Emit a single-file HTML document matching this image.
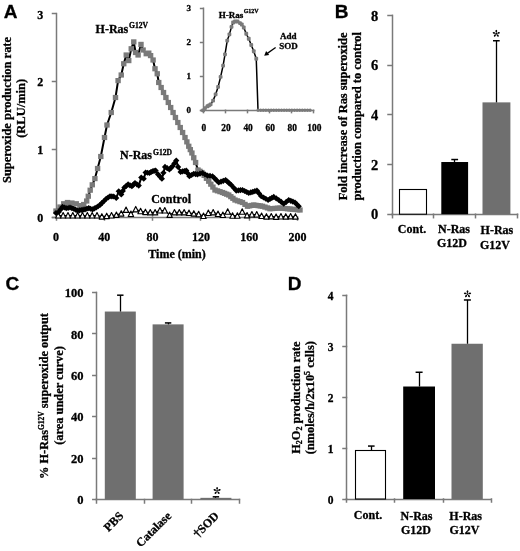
<!DOCTYPE html>
<html><head><meta charset="utf-8"><style>
html,body{margin:0;padding:0;background:#fff;width:520px;height:551px;overflow:hidden}
svg{display:block;will-change:transform}
</style></head><body>
<svg width="520" height="551" viewBox="0 0 520 551" fill="#000">
<style>text{stroke:#000;stroke-width:0.3px;paint-order:stroke}</style>
<rect width="520" height="551" fill="#fff"/>
<line x1="56.50" y1="13.60" x2="56.50" y2="217.00" stroke="#7a7a7a" stroke-width="1.5" stroke-linecap="square"/>
<line x1="52.50" y1="217.50" x2="56.00" y2="217.50" stroke="#7a7a7a" stroke-width="1.5" stroke-linecap="square"/>
<text x="40.3" y="222.0" font-family="Liberation Serif" font-size="12" font-weight="bold" text-anchor="middle" >0</text>
<line x1="52.50" y1="149.50" x2="56.00" y2="149.50" stroke="#7a7a7a" stroke-width="1.5" stroke-linecap="square"/>
<text x="40.3" y="154.2" font-family="Liberation Serif" font-size="12" font-weight="bold" text-anchor="middle" >1</text>
<line x1="52.50" y1="81.50" x2="56.00" y2="81.50" stroke="#7a7a7a" stroke-width="1.5" stroke-linecap="square"/>
<text x="40.3" y="86.4" font-family="Liberation Serif" font-size="12" font-weight="bold" text-anchor="middle" >2</text>
<line x1="52.50" y1="13.50" x2="56.00" y2="13.50" stroke="#7a7a7a" stroke-width="1.5" stroke-linecap="square"/>
<text x="40.3" y="18.600000000000023" font-family="Liberation Serif" font-size="12" font-weight="bold" text-anchor="middle" >3</text>
<line x1="52.50" y1="217.50" x2="297.50" y2="217.50" stroke="#7a7a7a" stroke-width="1.5" stroke-linecap="square"/>
<line x1="56.50" y1="217.00" x2="56.50" y2="220.00" stroke="#7a7a7a" stroke-width="1.5" stroke-linecap="square"/>
<text x="56.0" y="241.4" font-family="Liberation Serif" font-size="12" font-weight="bold" text-anchor="middle" >0</text>
<line x1="104.50" y1="217.00" x2="104.50" y2="220.00" stroke="#7a7a7a" stroke-width="1.5" stroke-linecap="square"/>
<text x="104.3" y="241.4" font-family="Liberation Serif" font-size="12" font-weight="bold" text-anchor="middle" >40</text>
<line x1="152.50" y1="217.00" x2="152.50" y2="220.00" stroke="#7a7a7a" stroke-width="1.5" stroke-linecap="square"/>
<text x="152.6" y="241.4" font-family="Liberation Serif" font-size="12" font-weight="bold" text-anchor="middle" >80</text>
<line x1="200.50" y1="217.00" x2="200.50" y2="220.00" stroke="#7a7a7a" stroke-width="1.5" stroke-linecap="square"/>
<text x="200.9" y="241.4" font-family="Liberation Serif" font-size="12" font-weight="bold" text-anchor="middle" >120</text>
<line x1="249.50" y1="217.00" x2="249.50" y2="220.00" stroke="#7a7a7a" stroke-width="1.5" stroke-linecap="square"/>
<text x="249.2" y="241.4" font-family="Liberation Serif" font-size="12" font-weight="bold" text-anchor="middle" >160</text>
<line x1="297.50" y1="217.00" x2="297.50" y2="220.00" stroke="#7a7a7a" stroke-width="1.5" stroke-linecap="square"/>
<text x="297.5" y="241.4" font-family="Liberation Serif" font-size="12" font-weight="bold" text-anchor="middle" >200</text>
<text x="177" y="258.3" font-family="Liberation Serif" font-size="12" font-weight="bold" text-anchor="middle" >Time (min)</text>
<text transform="translate(11.1,110.0) rotate(-90)" font-family="Liberation Serif" font-size="12.45" font-weight="bold" text-anchor="middle">Superoxide production rate</text>
<text transform="translate(25.2,108.3) rotate(-90)" font-family="Liberation Serif" font-size="12.5" font-weight="bold" text-anchor="middle">(RLU/min)</text>
<text x="3.7" y="17.9" font-family="Liberation Sans" font-size="19" font-weight="bold" text-anchor="start" >A</text>
<polyline points="58.30,215.50 63.14,215.50 67.98,215.50 72.82,215.50 77.66,215.50 82.50,215.50 87.34,215.50 92.18,215.50 97.02,215.50 101.86,216.60 106.70,216.10 111.54,215.50 116.38,214.90 121.22,213.60 126.06,209.90 130.90,214.00 135.74,209.30 140.58,211.20 145.42,212.10 150.26,212.40 155.10,212.40 159.94,210.50 164.78,210.50 169.62,214.90 174.46,212.40 179.30,212.40 184.14,212.40 188.98,213.00 193.82,213.60 198.66,214.20 203.50,216.00 208.34,213.00 213.18,212.40 218.02,214.00 222.86,215.00 227.70,211.70 232.54,215.70 237.38,215.70 242.22,211.70 247.06,215.40 251.90,214.50 256.74,214.50 261.58,216.00 266.42,216.60 271.26,216.40 276.10,216.80 280.94,216.50 285.78,216.60 290.62,216.40 295.46,216.60" fill="none" stroke="#000" stroke-width="1.2" stroke-linejoin="round"/>
<path d="M58.30,212.60 L61.00,218.00 L55.60,218.00 Z" fill="#fff" stroke="#000" stroke-width="1.15" stroke-linejoin="round"/>
<path d="M63.14,212.60 L65.84,218.00 L60.44,218.00 Z" fill="#fff" stroke="#000" stroke-width="1.15" stroke-linejoin="round"/>
<path d="M67.98,212.60 L70.68,218.00 L65.28,218.00 Z" fill="#fff" stroke="#000" stroke-width="1.15" stroke-linejoin="round"/>
<path d="M72.82,212.60 L75.52,218.00 L70.12,218.00 Z" fill="#fff" stroke="#000" stroke-width="1.15" stroke-linejoin="round"/>
<path d="M77.66,212.60 L80.36,218.00 L74.96,218.00 Z" fill="#fff" stroke="#000" stroke-width="1.15" stroke-linejoin="round"/>
<path d="M82.50,212.60 L85.20,218.00 L79.80,218.00 Z" fill="#fff" stroke="#000" stroke-width="1.15" stroke-linejoin="round"/>
<path d="M87.34,212.60 L90.04,218.00 L84.64,218.00 Z" fill="#fff" stroke="#000" stroke-width="1.15" stroke-linejoin="round"/>
<path d="M92.18,212.60 L94.88,218.00 L89.48,218.00 Z" fill="#fff" stroke="#000" stroke-width="1.15" stroke-linejoin="round"/>
<path d="M97.02,212.60 L99.72,218.00 L94.32,218.00 Z" fill="#fff" stroke="#000" stroke-width="1.15" stroke-linejoin="round"/>
<path d="M101.86,213.70 L104.56,219.10 L99.16,219.10 Z" fill="#fff" stroke="#000" stroke-width="1.15" stroke-linejoin="round"/>
<path d="M106.70,213.20 L109.40,218.60 L104.00,218.60 Z" fill="#fff" stroke="#000" stroke-width="1.15" stroke-linejoin="round"/>
<path d="M111.54,212.60 L114.24,218.00 L108.84,218.00 Z" fill="#fff" stroke="#000" stroke-width="1.15" stroke-linejoin="round"/>
<path d="M116.38,212.00 L119.08,217.40 L113.68,217.40 Z" fill="#fff" stroke="#000" stroke-width="1.15" stroke-linejoin="round"/>
<path d="M121.22,210.70 L123.92,216.10 L118.52,216.10 Z" fill="#fff" stroke="#000" stroke-width="1.15" stroke-linejoin="round"/>
<path d="M126.06,207.00 L128.76,212.40 L123.36,212.40 Z" fill="#fff" stroke="#000" stroke-width="1.15" stroke-linejoin="round"/>
<path d="M130.90,211.10 L133.60,216.50 L128.20,216.50 Z" fill="#fff" stroke="#000" stroke-width="1.15" stroke-linejoin="round"/>
<path d="M135.74,206.40 L138.44,211.80 L133.04,211.80 Z" fill="#fff" stroke="#000" stroke-width="1.15" stroke-linejoin="round"/>
<path d="M140.58,208.30 L143.28,213.70 L137.88,213.70 Z" fill="#fff" stroke="#000" stroke-width="1.15" stroke-linejoin="round"/>
<path d="M145.42,209.20 L148.12,214.60 L142.72,214.60 Z" fill="#fff" stroke="#000" stroke-width="1.15" stroke-linejoin="round"/>
<path d="M150.26,209.50 L152.96,214.90 L147.56,214.90 Z" fill="#fff" stroke="#000" stroke-width="1.15" stroke-linejoin="round"/>
<path d="M155.10,209.50 L157.80,214.90 L152.40,214.90 Z" fill="#fff" stroke="#000" stroke-width="1.15" stroke-linejoin="round"/>
<path d="M159.94,207.60 L162.64,213.00 L157.24,213.00 Z" fill="#fff" stroke="#000" stroke-width="1.15" stroke-linejoin="round"/>
<path d="M164.78,207.60 L167.48,213.00 L162.08,213.00 Z" fill="#fff" stroke="#000" stroke-width="1.15" stroke-linejoin="round"/>
<path d="M169.62,212.00 L172.32,217.40 L166.92,217.40 Z" fill="#fff" stroke="#000" stroke-width="1.15" stroke-linejoin="round"/>
<path d="M174.46,209.50 L177.16,214.90 L171.76,214.90 Z" fill="#fff" stroke="#000" stroke-width="1.15" stroke-linejoin="round"/>
<path d="M179.30,209.50 L182.00,214.90 L176.60,214.90 Z" fill="#fff" stroke="#000" stroke-width="1.15" stroke-linejoin="round"/>
<path d="M184.14,209.50 L186.84,214.90 L181.44,214.90 Z" fill="#fff" stroke="#000" stroke-width="1.15" stroke-linejoin="round"/>
<path d="M188.98,210.10 L191.68,215.50 L186.28,215.50 Z" fill="#fff" stroke="#000" stroke-width="1.15" stroke-linejoin="round"/>
<path d="M193.82,210.70 L196.52,216.10 L191.12,216.10 Z" fill="#fff" stroke="#000" stroke-width="1.15" stroke-linejoin="round"/>
<path d="M198.66,211.30 L201.36,216.70 L195.96,216.70 Z" fill="#fff" stroke="#000" stroke-width="1.15" stroke-linejoin="round"/>
<path d="M203.50,213.10 L206.20,218.50 L200.80,218.50 Z" fill="#fff" stroke="#000" stroke-width="1.15" stroke-linejoin="round"/>
<path d="M208.34,210.10 L211.04,215.50 L205.64,215.50 Z" fill="#fff" stroke="#000" stroke-width="1.15" stroke-linejoin="round"/>
<path d="M213.18,209.50 L215.88,214.90 L210.48,214.90 Z" fill="#fff" stroke="#000" stroke-width="1.15" stroke-linejoin="round"/>
<path d="M218.02,211.10 L220.72,216.50 L215.32,216.50 Z" fill="#fff" stroke="#000" stroke-width="1.15" stroke-linejoin="round"/>
<path d="M222.86,212.10 L225.56,217.50 L220.16,217.50 Z" fill="#fff" stroke="#000" stroke-width="1.15" stroke-linejoin="round"/>
<path d="M227.70,208.80 L230.40,214.20 L225.00,214.20 Z" fill="#fff" stroke="#000" stroke-width="1.15" stroke-linejoin="round"/>
<path d="M232.54,212.80 L235.24,218.20 L229.84,218.20 Z" fill="#fff" stroke="#000" stroke-width="1.15" stroke-linejoin="round"/>
<path d="M237.38,212.80 L240.08,218.20 L234.68,218.20 Z" fill="#fff" stroke="#000" stroke-width="1.15" stroke-linejoin="round"/>
<path d="M242.22,208.80 L244.92,214.20 L239.52,214.20 Z" fill="#fff" stroke="#000" stroke-width="1.15" stroke-linejoin="round"/>
<path d="M247.06,212.50 L249.76,217.90 L244.36,217.90 Z" fill="#fff" stroke="#000" stroke-width="1.15" stroke-linejoin="round"/>
<path d="M251.90,211.60 L254.60,217.00 L249.20,217.00 Z" fill="#fff" stroke="#000" stroke-width="1.15" stroke-linejoin="round"/>
<path d="M256.74,211.60 L259.44,217.00 L254.04,217.00 Z" fill="#fff" stroke="#000" stroke-width="1.15" stroke-linejoin="round"/>
<path d="M261.58,213.10 L264.28,218.50 L258.88,218.50 Z" fill="#fff" stroke="#000" stroke-width="1.15" stroke-linejoin="round"/>
<path d="M266.42,213.70 L269.12,219.10 L263.72,219.10 Z" fill="#fff" stroke="#000" stroke-width="1.15" stroke-linejoin="round"/>
<path d="M271.26,213.50 L273.96,218.90 L268.56,218.90 Z" fill="#fff" stroke="#000" stroke-width="1.15" stroke-linejoin="round"/>
<path d="M276.10,213.90 L278.80,219.30 L273.40,219.30 Z" fill="#fff" stroke="#000" stroke-width="1.15" stroke-linejoin="round"/>
<path d="M280.94,213.60 L283.64,219.00 L278.24,219.00 Z" fill="#fff" stroke="#000" stroke-width="1.15" stroke-linejoin="round"/>
<path d="M285.78,213.70 L288.48,219.10 L283.08,219.10 Z" fill="#fff" stroke="#000" stroke-width="1.15" stroke-linejoin="round"/>
<path d="M290.62,213.50 L293.32,218.90 L287.92,218.90 Z" fill="#fff" stroke="#000" stroke-width="1.15" stroke-linejoin="round"/>
<path d="M295.46,213.70 L298.16,219.10 L292.76,219.10 Z" fill="#fff" stroke="#000" stroke-width="1.15" stroke-linejoin="round"/>
<polyline points="56.00,211.00 60.00,207.00 63.75,203.75 67.50,202.50 71.90,203.00 76.25,203.75 80.00,205.60 83.75,204.50 86.70,201.00 88.30,196.20 90.20,190.20 92.30,184.80 94.90,178.60 97.60,168.50 100.80,156.50 104.50,137.50 107.00,125.00 111.25,112.50 115.50,97.50 118.10,80.60 121.25,75.00 123.75,63.75 126.25,55.00 128.75,60.60 131.25,48.75 133.75,41.90 135.60,52.50 138.10,55.00 141.00,44.40 143.10,50.00 146.25,53.75 148.75,53.10 150.60,55.60 153.10,60.00 155.00,68.75 157.25,73.75 158.75,82.50 161.14,87.50 163.52,92.50 165.91,97.50 168.30,102.50 170.68,107.50 173.07,112.50 175.45,117.50 177.84,122.50 180.23,127.50 182.61,132.50 185.00,137.50 186.88,141.88 188.75,146.25 190.32,149.62 191.90,153.00 193.75,157.75 195.60,162.50 198.00,170.00 199.95,171.25 201.90,172.50 204.18,175.42 206.47,178.33 208.75,181.25 210.83,184.17 212.92,187.08 215.00,190.00 217.50,190.83 220.00,191.67 222.50,192.50 224.58,193.33 226.67,194.17 228.75,195.00 230.83,196.67 232.92,198.33 235.00,200.00 237.50,200.83 240.00,201.67 242.50,202.50 245.00,204.38 247.50,206.25 249.58,205.83 251.67,205.42 253.75,205.00 255.94,205.31 258.12,205.62 260.31,205.94 262.50,206.25 265.00,207.08 267.50,207.92 270.00,208.75 272.50,208.56 275.00,208.38 277.50,208.19 280.00,208.00 282.50,208.25 285.00,208.50 287.50,208.75 290.00,209.00 292.50,209.25 295.00,209.50 297.50,209.75 300.00,210.00" fill="none" stroke="#000" stroke-width="2.0" stroke-linejoin="round"/>
<rect x="53.30" y="208.40" width="5.4" height="5.2" fill="#7a7a7a"/>
<rect x="57.30" y="204.40" width="5.4" height="5.2" fill="#7a7a7a"/>
<rect x="61.05" y="201.15" width="5.4" height="5.2" fill="#7a7a7a"/>
<rect x="64.80" y="199.90" width="5.4" height="5.2" fill="#7a7a7a"/>
<rect x="69.20" y="200.40" width="5.4" height="5.2" fill="#7a7a7a"/>
<rect x="73.55" y="201.15" width="5.4" height="5.2" fill="#7a7a7a"/>
<rect x="77.30" y="203.00" width="5.4" height="5.2" fill="#7a7a7a"/>
<rect x="81.05" y="201.90" width="5.4" height="5.2" fill="#7a7a7a"/>
<rect x="84.00" y="198.40" width="5.4" height="5.2" fill="#7a7a7a"/>
<rect x="85.60" y="193.60" width="5.4" height="5.2" fill="#7a7a7a"/>
<rect x="87.50" y="187.60" width="5.4" height="5.2" fill="#7a7a7a"/>
<rect x="89.60" y="182.20" width="5.4" height="5.2" fill="#7a7a7a"/>
<rect x="92.20" y="176.00" width="5.4" height="5.2" fill="#7a7a7a"/>
<rect x="94.90" y="165.90" width="5.4" height="5.2" fill="#7a7a7a"/>
<rect x="98.10" y="153.90" width="5.4" height="5.2" fill="#7a7a7a"/>
<rect x="101.80" y="134.90" width="5.4" height="5.2" fill="#7a7a7a"/>
<rect x="104.30" y="122.40" width="5.4" height="5.2" fill="#7a7a7a"/>
<rect x="108.55" y="109.90" width="5.4" height="5.2" fill="#7a7a7a"/>
<rect x="112.80" y="94.90" width="5.4" height="5.2" fill="#7a7a7a"/>
<rect x="115.40" y="78.00" width="5.4" height="5.2" fill="#7a7a7a"/>
<rect x="118.55" y="72.40" width="5.4" height="5.2" fill="#7a7a7a"/>
<rect x="121.05" y="61.15" width="5.4" height="5.2" fill="#7a7a7a"/>
<rect x="123.55" y="52.40" width="5.4" height="5.2" fill="#7a7a7a"/>
<rect x="126.05" y="58.00" width="5.4" height="5.2" fill="#7a7a7a"/>
<rect x="128.55" y="46.15" width="5.4" height="5.2" fill="#7a7a7a"/>
<rect x="131.05" y="39.30" width="5.4" height="5.2" fill="#7a7a7a"/>
<rect x="132.90" y="49.90" width="5.4" height="5.2" fill="#7a7a7a"/>
<rect x="135.40" y="52.40" width="5.4" height="5.2" fill="#7a7a7a"/>
<rect x="138.30" y="41.80" width="5.4" height="5.2" fill="#7a7a7a"/>
<rect x="140.40" y="47.40" width="5.4" height="5.2" fill="#7a7a7a"/>
<rect x="143.55" y="51.15" width="5.4" height="5.2" fill="#7a7a7a"/>
<rect x="146.05" y="50.50" width="5.4" height="5.2" fill="#7a7a7a"/>
<rect x="147.90" y="53.00" width="5.4" height="5.2" fill="#7a7a7a"/>
<rect x="150.40" y="57.40" width="5.4" height="5.2" fill="#7a7a7a"/>
<rect x="152.30" y="66.15" width="5.4" height="5.2" fill="#7a7a7a"/>
<rect x="154.55" y="71.15" width="5.4" height="5.2" fill="#7a7a7a"/>
<rect x="156.05" y="79.90" width="5.4" height="5.2" fill="#7a7a7a"/>
<rect x="158.44" y="84.90" width="5.4" height="5.2" fill="#7a7a7a"/>
<rect x="160.82" y="89.90" width="5.4" height="5.2" fill="#7a7a7a"/>
<rect x="163.21" y="94.90" width="5.4" height="5.2" fill="#7a7a7a"/>
<rect x="165.60" y="99.90" width="5.4" height="5.2" fill="#7a7a7a"/>
<rect x="167.98" y="104.90" width="5.4" height="5.2" fill="#7a7a7a"/>
<rect x="170.37" y="109.90" width="5.4" height="5.2" fill="#7a7a7a"/>
<rect x="172.75" y="114.90" width="5.4" height="5.2" fill="#7a7a7a"/>
<rect x="175.14" y="119.90" width="5.4" height="5.2" fill="#7a7a7a"/>
<rect x="177.53" y="124.90" width="5.4" height="5.2" fill="#7a7a7a"/>
<rect x="179.91" y="129.90" width="5.4" height="5.2" fill="#7a7a7a"/>
<rect x="182.30" y="134.90" width="5.4" height="5.2" fill="#7a7a7a"/>
<rect x="184.18" y="139.28" width="5.4" height="5.2" fill="#7a7a7a"/>
<rect x="186.05" y="143.65" width="5.4" height="5.2" fill="#7a7a7a"/>
<rect x="187.62" y="147.03" width="5.4" height="5.2" fill="#7a7a7a"/>
<rect x="189.20" y="150.40" width="5.4" height="5.2" fill="#7a7a7a"/>
<rect x="191.05" y="155.15" width="5.4" height="5.2" fill="#7a7a7a"/>
<rect x="192.90" y="159.90" width="5.4" height="5.2" fill="#7a7a7a"/>
<rect x="195.30" y="167.40" width="5.4" height="5.2" fill="#7a7a7a"/>
<rect x="197.25" y="168.65" width="5.4" height="5.2" fill="#7a7a7a"/>
<rect x="199.20" y="169.90" width="5.4" height="5.2" fill="#7a7a7a"/>
<rect x="201.48" y="172.82" width="5.4" height="5.2" fill="#7a7a7a"/>
<rect x="203.77" y="175.73" width="5.4" height="5.2" fill="#7a7a7a"/>
<rect x="206.05" y="178.65" width="5.4" height="5.2" fill="#7a7a7a"/>
<rect x="208.13" y="181.57" width="5.4" height="5.2" fill="#7a7a7a"/>
<rect x="210.22" y="184.48" width="5.4" height="5.2" fill="#7a7a7a"/>
<rect x="212.30" y="187.40" width="5.4" height="5.2" fill="#7a7a7a"/>
<rect x="214.80" y="188.23" width="5.4" height="5.2" fill="#7a7a7a"/>
<rect x="217.30" y="189.07" width="5.4" height="5.2" fill="#7a7a7a"/>
<rect x="219.80" y="189.90" width="5.4" height="5.2" fill="#7a7a7a"/>
<rect x="221.88" y="190.73" width="5.4" height="5.2" fill="#7a7a7a"/>
<rect x="223.97" y="191.57" width="5.4" height="5.2" fill="#7a7a7a"/>
<rect x="226.05" y="192.40" width="5.4" height="5.2" fill="#7a7a7a"/>
<rect x="228.13" y="194.07" width="5.4" height="5.2" fill="#7a7a7a"/>
<rect x="230.22" y="195.73" width="5.4" height="5.2" fill="#7a7a7a"/>
<rect x="232.30" y="197.40" width="5.4" height="5.2" fill="#7a7a7a"/>
<rect x="234.80" y="198.23" width="5.4" height="5.2" fill="#7a7a7a"/>
<rect x="237.30" y="199.07" width="5.4" height="5.2" fill="#7a7a7a"/>
<rect x="239.80" y="199.90" width="5.4" height="5.2" fill="#7a7a7a"/>
<rect x="242.30" y="201.78" width="5.4" height="5.2" fill="#7a7a7a"/>
<rect x="244.80" y="203.65" width="5.4" height="5.2" fill="#7a7a7a"/>
<rect x="246.88" y="203.23" width="5.4" height="5.2" fill="#7a7a7a"/>
<rect x="248.97" y="202.82" width="5.4" height="5.2" fill="#7a7a7a"/>
<rect x="251.05" y="202.40" width="5.4" height="5.2" fill="#7a7a7a"/>
<rect x="253.24" y="202.71" width="5.4" height="5.2" fill="#7a7a7a"/>
<rect x="255.43" y="203.03" width="5.4" height="5.2" fill="#7a7a7a"/>
<rect x="257.61" y="203.34" width="5.4" height="5.2" fill="#7a7a7a"/>
<rect x="259.80" y="203.65" width="5.4" height="5.2" fill="#7a7a7a"/>
<rect x="262.30" y="204.48" width="5.4" height="5.2" fill="#7a7a7a"/>
<rect x="264.80" y="205.32" width="5.4" height="5.2" fill="#7a7a7a"/>
<rect x="267.30" y="206.15" width="5.4" height="5.2" fill="#7a7a7a"/>
<rect x="269.80" y="205.96" width="5.4" height="5.2" fill="#7a7a7a"/>
<rect x="272.30" y="205.78" width="5.4" height="5.2" fill="#7a7a7a"/>
<rect x="274.80" y="205.59" width="5.4" height="5.2" fill="#7a7a7a"/>
<rect x="277.30" y="205.40" width="5.4" height="5.2" fill="#7a7a7a"/>
<rect x="279.80" y="205.65" width="5.4" height="5.2" fill="#7a7a7a"/>
<rect x="282.30" y="205.90" width="5.4" height="5.2" fill="#7a7a7a"/>
<rect x="284.80" y="206.15" width="5.4" height="5.2" fill="#7a7a7a"/>
<rect x="287.30" y="206.40" width="5.4" height="5.2" fill="#7a7a7a"/>
<rect x="289.80" y="206.65" width="5.4" height="5.2" fill="#7a7a7a"/>
<rect x="292.30" y="206.90" width="5.4" height="5.2" fill="#7a7a7a"/>
<rect x="294.80" y="207.15" width="5.4" height="5.2" fill="#7a7a7a"/>
<rect x="297.30" y="207.40" width="5.4" height="5.2" fill="#7a7a7a"/>
<polyline points="56.00,213.00 58.75,211.90 60.62,209.40 62.50,206.90 64.38,207.50 66.25,208.10 68.12,207.80 70.00,207.50 71.88,208.12 73.75,208.75 75.62,209.68 77.50,210.60 79.38,210.30 81.25,210.00 83.12,209.70 85.00,209.40 86.88,208.75 88.75,208.10 90.62,208.75 92.50,209.40 94.38,208.45 96.25,207.50 98.12,206.25 100.00,205.00 101.88,203.12 103.75,201.25 106.25,198.75 108.12,197.50 110.00,196.25 111.88,196.38 113.75,196.50 116.25,198.00 118.75,191.25 121.25,194.40 122.83,190.95 124.40,187.50 126.25,185.95 128.10,184.40 130.00,185.32 131.90,186.25 133.45,184.62 135.00,183.00 136.88,184.30 138.75,185.60 141.25,177.50 143.75,178.75 145.60,172.50 147.50,172.75 149.40,173.00 150.95,172.12 152.50,171.25 154.05,170.93 155.60,170.60 158.10,174.40 160.00,176.57 161.90,178.75 163.45,172.82 165.00,166.90 167.20,168.15 169.40,169.40 170.95,167.82 172.50,166.25 174.38,163.43 176.25,160.60 178.10,166.90 180.60,171.90 182.48,171.47 184.37,171.03 186.25,170.60 187.82,173.43 189.40,176.25 191.57,175.00 193.75,173.75 195.62,174.07 197.50,174.40 200.00,173.70 202.50,173.00 205.00,174.30 207.50,175.60 210.00,175.93 212.50,176.25 214.58,178.33 216.67,180.42 218.75,182.50 221.03,181.67 223.32,180.83 225.60,180.00 227.48,181.67 229.37,183.33 231.25,185.00 233.75,187.80 236.25,190.60 238.33,190.40 240.42,190.20 242.50,190.00 244.58,191.00 246.67,192.00 248.75,193.00 250.79,192.40 252.82,191.80 254.86,191.20 256.90,190.60 259.07,193.43 261.25,196.25 263.53,197.50 265.82,198.75 268.10,200.00 269.98,198.97 271.87,197.93 273.75,196.90 276.25,198.45 278.75,200.00 281.25,201.88 283.75,203.75 286.25,201.88 288.75,200.00 290.83,200.83 292.92,201.67 295.00,202.50 296.88,204.38 298.75,206.25" fill="none" stroke="#000" stroke-width="2.0" stroke-linejoin="round"/>
<path d="M56.00,209.90 L59.10,213.00 L56.00,216.10 L52.90,213.00 Z" fill="#000"/>
<path d="M58.75,208.80 L61.85,211.90 L58.75,215.00 L55.65,211.90 Z" fill="#000"/>
<path d="M60.62,206.30 L63.73,209.40 L60.62,212.50 L57.52,209.40 Z" fill="#000"/>
<path d="M62.50,203.80 L65.60,206.90 L62.50,210.00 L59.40,206.90 Z" fill="#000"/>
<path d="M64.38,204.40 L67.47,207.50 L64.38,210.60 L61.27,207.50 Z" fill="#000"/>
<path d="M66.25,205.00 L69.35,208.10 L66.25,211.20 L63.15,208.10 Z" fill="#000"/>
<path d="M68.12,204.70 L71.22,207.80 L68.12,210.90 L65.03,207.80 Z" fill="#000"/>
<path d="M70.00,204.40 L73.10,207.50 L70.00,210.60 L66.90,207.50 Z" fill="#000"/>
<path d="M71.88,205.03 L74.97,208.12 L71.88,211.22 L68.78,208.12 Z" fill="#000"/>
<path d="M73.75,205.65 L76.85,208.75 L73.75,211.85 L70.65,208.75 Z" fill="#000"/>
<path d="M75.62,206.58 L78.72,209.68 L75.62,212.78 L72.53,209.68 Z" fill="#000"/>
<path d="M77.50,207.50 L80.60,210.60 L77.50,213.70 L74.40,210.60 Z" fill="#000"/>
<path d="M79.38,207.20 L82.47,210.30 L79.38,213.40 L76.28,210.30 Z" fill="#000"/>
<path d="M81.25,206.90 L84.35,210.00 L81.25,213.10 L78.15,210.00 Z" fill="#000"/>
<path d="M83.12,206.60 L86.22,209.70 L83.12,212.80 L80.03,209.70 Z" fill="#000"/>
<path d="M85.00,206.30 L88.10,209.40 L85.00,212.50 L81.90,209.40 Z" fill="#000"/>
<path d="M86.88,205.65 L89.97,208.75 L86.88,211.85 L83.78,208.75 Z" fill="#000"/>
<path d="M88.75,205.00 L91.85,208.10 L88.75,211.20 L85.65,208.10 Z" fill="#000"/>
<path d="M90.62,205.65 L93.72,208.75 L90.62,211.85 L87.53,208.75 Z" fill="#000"/>
<path d="M92.50,206.30 L95.60,209.40 L92.50,212.50 L89.40,209.40 Z" fill="#000"/>
<path d="M94.38,205.35 L97.47,208.45 L94.38,211.55 L91.28,208.45 Z" fill="#000"/>
<path d="M96.25,204.40 L99.35,207.50 L96.25,210.60 L93.15,207.50 Z" fill="#000"/>
<path d="M98.12,203.15 L101.22,206.25 L98.12,209.35 L95.03,206.25 Z" fill="#000"/>
<path d="M100.00,201.90 L103.10,205.00 L100.00,208.10 L96.90,205.00 Z" fill="#000"/>
<path d="M101.88,200.03 L104.97,203.12 L101.88,206.22 L98.78,203.12 Z" fill="#000"/>
<path d="M103.75,198.15 L106.85,201.25 L103.75,204.35 L100.65,201.25 Z" fill="#000"/>
<path d="M106.25,195.65 L109.35,198.75 L106.25,201.85 L103.15,198.75 Z" fill="#000"/>
<path d="M108.12,194.40 L111.22,197.50 L108.12,200.60 L105.03,197.50 Z" fill="#000"/>
<path d="M110.00,193.15 L113.10,196.25 L110.00,199.35 L106.90,196.25 Z" fill="#000"/>
<path d="M111.88,193.28 L114.97,196.38 L111.88,199.47 L108.78,196.38 Z" fill="#000"/>
<path d="M113.75,193.40 L116.85,196.50 L113.75,199.60 L110.65,196.50 Z" fill="#000"/>
<path d="M116.25,194.90 L119.35,198.00 L116.25,201.10 L113.15,198.00 Z" fill="#000"/>
<path d="M118.75,188.15 L121.85,191.25 L118.75,194.35 L115.65,191.25 Z" fill="#000"/>
<path d="M121.25,191.30 L124.35,194.40 L121.25,197.50 L118.15,194.40 Z" fill="#000"/>
<path d="M122.83,187.85 L125.92,190.95 L122.83,194.05 L119.73,190.95 Z" fill="#000"/>
<path d="M124.40,184.40 L127.50,187.50 L124.40,190.60 L121.30,187.50 Z" fill="#000"/>
<path d="M126.25,182.85 L129.35,185.95 L126.25,189.05 L123.15,185.95 Z" fill="#000"/>
<path d="M128.10,181.30 L131.20,184.40 L128.10,187.50 L125.00,184.40 Z" fill="#000"/>
<path d="M130.00,182.22 L133.10,185.32 L130.00,188.42 L126.90,185.32 Z" fill="#000"/>
<path d="M131.90,183.15 L135.00,186.25 L131.90,189.35 L128.80,186.25 Z" fill="#000"/>
<path d="M133.45,181.53 L136.55,184.62 L133.45,187.72 L130.35,184.62 Z" fill="#000"/>
<path d="M135.00,179.90 L138.10,183.00 L135.00,186.10 L131.90,183.00 Z" fill="#000"/>
<path d="M136.88,181.20 L139.97,184.30 L136.88,187.40 L133.78,184.30 Z" fill="#000"/>
<path d="M138.75,182.50 L141.85,185.60 L138.75,188.70 L135.65,185.60 Z" fill="#000"/>
<path d="M141.25,174.40 L144.35,177.50 L141.25,180.60 L138.15,177.50 Z" fill="#000"/>
<path d="M143.75,175.65 L146.85,178.75 L143.75,181.85 L140.65,178.75 Z" fill="#000"/>
<path d="M145.60,169.40 L148.70,172.50 L145.60,175.60 L142.50,172.50 Z" fill="#000"/>
<path d="M147.50,169.65 L150.60,172.75 L147.50,175.85 L144.40,172.75 Z" fill="#000"/>
<path d="M149.40,169.90 L152.50,173.00 L149.40,176.10 L146.30,173.00 Z" fill="#000"/>
<path d="M150.95,169.03 L154.05,172.12 L150.95,175.22 L147.85,172.12 Z" fill="#000"/>
<path d="M152.50,168.15 L155.60,171.25 L152.50,174.35 L149.40,171.25 Z" fill="#000"/>
<path d="M154.05,167.83 L157.15,170.93 L154.05,174.03 L150.95,170.93 Z" fill="#000"/>
<path d="M155.60,167.50 L158.70,170.60 L155.60,173.70 L152.50,170.60 Z" fill="#000"/>
<path d="M158.10,171.30 L161.20,174.40 L158.10,177.50 L155.00,174.40 Z" fill="#000"/>
<path d="M160.00,173.47 L163.10,176.57 L160.00,179.67 L156.90,176.57 Z" fill="#000"/>
<path d="M161.90,175.65 L165.00,178.75 L161.90,181.85 L158.80,178.75 Z" fill="#000"/>
<path d="M163.45,169.72 L166.55,172.82 L163.45,175.92 L160.35,172.82 Z" fill="#000"/>
<path d="M165.00,163.80 L168.10,166.90 L165.00,170.00 L161.90,166.90 Z" fill="#000"/>
<path d="M167.20,165.05 L170.30,168.15 L167.20,171.25 L164.10,168.15 Z" fill="#000"/>
<path d="M169.40,166.30 L172.50,169.40 L169.40,172.50 L166.30,169.40 Z" fill="#000"/>
<path d="M170.95,164.72 L174.05,167.82 L170.95,170.92 L167.85,167.82 Z" fill="#000"/>
<path d="M172.50,163.15 L175.60,166.25 L172.50,169.35 L169.40,166.25 Z" fill="#000"/>
<path d="M174.38,160.33 L177.47,163.43 L174.38,166.53 L171.28,163.43 Z" fill="#000"/>
<path d="M176.25,157.50 L179.35,160.60 L176.25,163.70 L173.15,160.60 Z" fill="#000"/>
<path d="M178.10,163.80 L181.20,166.90 L178.10,170.00 L175.00,166.90 Z" fill="#000"/>
<path d="M180.60,168.80 L183.70,171.90 L180.60,175.00 L177.50,171.90 Z" fill="#000"/>
<path d="M182.48,168.37 L185.58,171.47 L182.48,174.57 L179.38,171.47 Z" fill="#000"/>
<path d="M184.37,167.93 L187.47,171.03 L184.37,174.13 L181.27,171.03 Z" fill="#000"/>
<path d="M186.25,167.50 L189.35,170.60 L186.25,173.70 L183.15,170.60 Z" fill="#000"/>
<path d="M187.82,170.33 L190.92,173.43 L187.82,176.53 L184.72,173.43 Z" fill="#000"/>
<path d="M189.40,173.15 L192.50,176.25 L189.40,179.35 L186.30,176.25 Z" fill="#000"/>
<path d="M191.57,171.90 L194.67,175.00 L191.57,178.10 L188.47,175.00 Z" fill="#000"/>
<path d="M193.75,170.65 L196.85,173.75 L193.75,176.85 L190.65,173.75 Z" fill="#000"/>
<path d="M195.62,170.97 L198.72,174.07 L195.62,177.17 L192.53,174.07 Z" fill="#000"/>
<path d="M197.50,171.30 L200.60,174.40 L197.50,177.50 L194.40,174.40 Z" fill="#000"/>
<path d="M200.00,170.60 L203.10,173.70 L200.00,176.80 L196.90,173.70 Z" fill="#000"/>
<path d="M202.50,169.90 L205.60,173.00 L202.50,176.10 L199.40,173.00 Z" fill="#000"/>
<path d="M205.00,171.20 L208.10,174.30 L205.00,177.40 L201.90,174.30 Z" fill="#000"/>
<path d="M207.50,172.50 L210.60,175.60 L207.50,178.70 L204.40,175.60 Z" fill="#000"/>
<path d="M210.00,172.83 L213.10,175.93 L210.00,179.03 L206.90,175.93 Z" fill="#000"/>
<path d="M212.50,173.15 L215.60,176.25 L212.50,179.35 L209.40,176.25 Z" fill="#000"/>
<path d="M214.58,175.23 L217.68,178.33 L214.58,181.43 L211.48,178.33 Z" fill="#000"/>
<path d="M216.67,177.32 L219.77,180.42 L216.67,183.52 L213.57,180.42 Z" fill="#000"/>
<path d="M218.75,179.40 L221.85,182.50 L218.75,185.60 L215.65,182.50 Z" fill="#000"/>
<path d="M221.03,178.57 L224.13,181.67 L221.03,184.77 L217.93,181.67 Z" fill="#000"/>
<path d="M223.32,177.73 L226.42,180.83 L223.32,183.93 L220.22,180.83 Z" fill="#000"/>
<path d="M225.60,176.90 L228.70,180.00 L225.60,183.10 L222.50,180.00 Z" fill="#000"/>
<path d="M227.48,178.57 L230.58,181.67 L227.48,184.77 L224.38,181.67 Z" fill="#000"/>
<path d="M229.37,180.23 L232.47,183.33 L229.37,186.43 L226.27,183.33 Z" fill="#000"/>
<path d="M231.25,181.90 L234.35,185.00 L231.25,188.10 L228.15,185.00 Z" fill="#000"/>
<path d="M233.75,184.70 L236.85,187.80 L233.75,190.90 L230.65,187.80 Z" fill="#000"/>
<path d="M236.25,187.50 L239.35,190.60 L236.25,193.70 L233.15,190.60 Z" fill="#000"/>
<path d="M238.33,187.30 L241.43,190.40 L238.33,193.50 L235.23,190.40 Z" fill="#000"/>
<path d="M240.42,187.10 L243.52,190.20 L240.42,193.30 L237.32,190.20 Z" fill="#000"/>
<path d="M242.50,186.90 L245.60,190.00 L242.50,193.10 L239.40,190.00 Z" fill="#000"/>
<path d="M244.58,187.90 L247.68,191.00 L244.58,194.10 L241.48,191.00 Z" fill="#000"/>
<path d="M246.67,188.90 L249.77,192.00 L246.67,195.10 L243.57,192.00 Z" fill="#000"/>
<path d="M248.75,189.90 L251.85,193.00 L248.75,196.10 L245.65,193.00 Z" fill="#000"/>
<path d="M250.79,189.30 L253.89,192.40 L250.79,195.50 L247.69,192.40 Z" fill="#000"/>
<path d="M252.82,188.70 L255.92,191.80 L252.82,194.90 L249.72,191.80 Z" fill="#000"/>
<path d="M254.86,188.10 L257.96,191.20 L254.86,194.30 L251.76,191.20 Z" fill="#000"/>
<path d="M256.90,187.50 L260.00,190.60 L256.90,193.70 L253.80,190.60 Z" fill="#000"/>
<path d="M259.07,190.33 L262.18,193.43 L259.07,196.53 L255.97,193.43 Z" fill="#000"/>
<path d="M261.25,193.15 L264.35,196.25 L261.25,199.35 L258.15,196.25 Z" fill="#000"/>
<path d="M263.53,194.40 L266.63,197.50 L263.53,200.60 L260.43,197.50 Z" fill="#000"/>
<path d="M265.82,195.65 L268.92,198.75 L265.82,201.85 L262.72,198.75 Z" fill="#000"/>
<path d="M268.10,196.90 L271.20,200.00 L268.10,203.10 L265.00,200.00 Z" fill="#000"/>
<path d="M269.98,195.87 L273.08,198.97 L269.98,202.07 L266.88,198.97 Z" fill="#000"/>
<path d="M271.87,194.83 L274.97,197.93 L271.87,201.03 L268.77,197.93 Z" fill="#000"/>
<path d="M273.75,193.80 L276.85,196.90 L273.75,200.00 L270.65,196.90 Z" fill="#000"/>
<path d="M276.25,195.35 L279.35,198.45 L276.25,201.55 L273.15,198.45 Z" fill="#000"/>
<path d="M278.75,196.90 L281.85,200.00 L278.75,203.10 L275.65,200.00 Z" fill="#000"/>
<path d="M281.25,198.78 L284.35,201.88 L281.25,204.97 L278.15,201.88 Z" fill="#000"/>
<path d="M283.75,200.65 L286.85,203.75 L283.75,206.85 L280.65,203.75 Z" fill="#000"/>
<path d="M286.25,198.78 L289.35,201.88 L286.25,204.97 L283.15,201.88 Z" fill="#000"/>
<path d="M288.75,196.90 L291.85,200.00 L288.75,203.10 L285.65,200.00 Z" fill="#000"/>
<path d="M290.83,197.73 L293.93,200.83 L290.83,203.93 L287.73,200.83 Z" fill="#000"/>
<path d="M292.92,198.57 L296.02,201.67 L292.92,204.77 L289.82,201.67 Z" fill="#000"/>
<path d="M295.00,199.40 L298.10,202.50 L295.00,205.60 L291.90,202.50 Z" fill="#000"/>
<path d="M296.88,201.28 L299.98,204.38 L296.88,207.47 L293.77,204.38 Z" fill="#000"/>
<path d="M298.75,203.15 L301.85,206.25 L298.75,209.35 L295.65,206.25 Z" fill="#000"/>
<text x="95.6" y="33.1" font-family="Liberation Serif" font-size="12" font-weight="bold">H-Ras<tspan font-size="7.6" dx="0.8" dy="-4.6">G12V</tspan></text>
<text x="120" y="159.4" font-family="Liberation Serif" font-size="12" font-weight="bold">N-Ras<tspan font-size="7.6" dx="1" dy="-4.6">G12D</tspan></text>
<text x="151.2" y="202.5" font-family="Liberation Serif" font-size="12" font-weight="bold" text-anchor="start" >Control</text>
<line x1="203.50" y1="8.30" x2="203.50" y2="110.30" stroke="#7a7a7a" stroke-width="1.5" stroke-linecap="square"/>
<line x1="200.60" y1="110.50" x2="203.10" y2="110.50" stroke="#7a7a7a" stroke-width="1.5" stroke-linecap="square"/>
<text x="188.8" y="113.39999999999999" font-family="Liberation Serif" font-size="9" font-weight="bold" text-anchor="middle" >0</text>
<line x1="200.60" y1="76.50" x2="203.10" y2="76.50" stroke="#7a7a7a" stroke-width="1.5" stroke-linecap="square"/>
<text x="188.8" y="79.39999999999999" font-family="Liberation Serif" font-size="9" font-weight="bold" text-anchor="middle" >1</text>
<line x1="200.60" y1="42.50" x2="203.10" y2="42.50" stroke="#7a7a7a" stroke-width="1.5" stroke-linecap="square"/>
<text x="188.8" y="45.4" font-family="Liberation Serif" font-size="9" font-weight="bold" text-anchor="middle" >2</text>
<line x1="200.60" y1="8.50" x2="203.10" y2="8.50" stroke="#7a7a7a" stroke-width="1.5" stroke-linecap="square"/>
<text x="188.8" y="11.399999999999997" font-family="Liberation Serif" font-size="9" font-weight="bold" text-anchor="middle" >3</text>
<line x1="200.60" y1="110.50" x2="313.60" y2="110.50" stroke="#7a7a7a" stroke-width="1.5" stroke-linecap="square"/>
<line x1="203.50" y1="110.30" x2="203.50" y2="112.60" stroke="#7a7a7a" stroke-width="1.5" stroke-linecap="square"/>
<text x="203.9" y="130.6" font-family="Liberation Serif" font-size="9.4" font-weight="bold" text-anchor="middle" >0</text>
<line x1="225.50" y1="110.30" x2="225.50" y2="112.60" stroke="#7a7a7a" stroke-width="1.5" stroke-linecap="square"/>
<text x="226.0" y="130.6" font-family="Liberation Serif" font-size="9.4" font-weight="bold" text-anchor="middle" >20</text>
<line x1="247.50" y1="110.30" x2="247.50" y2="112.60" stroke="#7a7a7a" stroke-width="1.5" stroke-linecap="square"/>
<text x="248.10000000000002" y="130.6" font-family="Liberation Serif" font-size="9.4" font-weight="bold" text-anchor="middle" >40</text>
<line x1="269.50" y1="110.30" x2="269.50" y2="112.60" stroke="#7a7a7a" stroke-width="1.5" stroke-linecap="square"/>
<text x="270.2" y="130.6" font-family="Liberation Serif" font-size="9.4" font-weight="bold" text-anchor="middle" >60</text>
<line x1="291.50" y1="110.30" x2="291.50" y2="112.60" stroke="#7a7a7a" stroke-width="1.5" stroke-linecap="square"/>
<text x="292.3" y="130.6" font-family="Liberation Serif" font-size="9.4" font-weight="bold" text-anchor="middle" >80</text>
<line x1="313.50" y1="110.30" x2="313.50" y2="112.60" stroke="#7a7a7a" stroke-width="1.5" stroke-linecap="square"/>
<text x="314.40000000000003" y="130.6" font-family="Liberation Serif" font-size="9.4" font-weight="bold" text-anchor="middle" >100</text>
<polyline points="203.10,110.30 205.00,108.10 207.50,106.25 210.60,104.40 213.10,100.60 215.60,94.40 218.10,86.90 220.60,76.90 223.10,65.60 225.00,54.40 227.25,40.60 229.40,34.40 231.50,26.90 233.10,22.50 235.00,21.50 237.50,21.50 240.00,23.10 241.80,24.50 243.75,27.50 246.25,33.75 248.75,38.75 251.25,45.00 253.75,51.25 256.25,58.75 258.00,110.30 311.00,110.30" fill="none" stroke="#000" stroke-width="1.5" stroke-linejoin="round"/>
<rect x="201.20" y="108.40" width="3.8" height="3.8" rx="1.0" fill="#7a7a7a"/>
<rect x="203.10" y="106.20" width="3.8" height="3.8" rx="1.0" fill="#7a7a7a"/>
<rect x="205.60" y="104.35" width="3.8" height="3.8" rx="1.0" fill="#7a7a7a"/>
<rect x="207.15" y="103.42" width="3.8" height="3.8" rx="1.0" fill="#7a7a7a"/>
<rect x="208.70" y="102.50" width="3.8" height="3.8" rx="1.0" fill="#7a7a7a"/>
<rect x="211.20" y="98.70" width="3.8" height="3.8" rx="1.0" fill="#7a7a7a"/>
<rect x="213.70" y="92.50" width="3.8" height="3.8" rx="1.0" fill="#7a7a7a"/>
<rect x="216.20" y="85.00" width="3.8" height="3.8" rx="1.0" fill="#7a7a7a"/>
<rect x="218.70" y="75.00" width="3.8" height="3.8" rx="1.0" fill="#7a7a7a"/>
<rect x="221.20" y="63.70" width="3.8" height="3.8" rx="1.0" fill="#7a7a7a"/>
<rect x="223.10" y="52.50" width="3.8" height="3.8" rx="1.0" fill="#7a7a7a"/>
<rect x="225.35" y="38.70" width="3.8" height="3.8" rx="1.0" fill="#7a7a7a"/>
<rect x="227.50" y="32.50" width="3.8" height="3.8" rx="1.0" fill="#7a7a7a"/>
<rect x="229.60" y="25.00" width="3.8" height="3.8" rx="1.0" fill="#7a7a7a"/>
<rect x="231.20" y="20.60" width="3.8" height="3.8" rx="1.0" fill="#7a7a7a"/>
<rect x="233.10" y="19.60" width="3.8" height="3.8" rx="1.0" fill="#7a7a7a"/>
<rect x="235.60" y="19.60" width="3.8" height="3.8" rx="1.0" fill="#7a7a7a"/>
<rect x="238.10" y="21.20" width="3.8" height="3.8" rx="1.0" fill="#7a7a7a"/>
<rect x="239.90" y="22.60" width="3.8" height="3.8" rx="1.0" fill="#7a7a7a"/>
<rect x="241.85" y="25.60" width="3.8" height="3.8" rx="1.0" fill="#7a7a7a"/>
<rect x="244.35" y="31.85" width="3.8" height="3.8" rx="1.0" fill="#7a7a7a"/>
<rect x="246.85" y="36.85" width="3.8" height="3.8" rx="1.0" fill="#7a7a7a"/>
<rect x="249.35" y="43.10" width="3.8" height="3.8" rx="1.0" fill="#7a7a7a"/>
<rect x="251.85" y="49.35" width="3.8" height="3.8" rx="1.0" fill="#7a7a7a"/>
<rect x="254.35" y="56.85" width="3.8" height="3.8" rx="1.0" fill="#7a7a7a"/>
<circle cx="258.10" cy="110.30" r="1.7" fill="#7a7a7a"/>
<circle cx="260.70" cy="110.30" r="1.7" fill="#7a7a7a"/>
<circle cx="263.30" cy="110.30" r="1.7" fill="#7a7a7a"/>
<circle cx="265.90" cy="110.30" r="1.7" fill="#7a7a7a"/>
<circle cx="268.50" cy="110.30" r="1.7" fill="#7a7a7a"/>
<circle cx="271.10" cy="110.30" r="1.7" fill="#7a7a7a"/>
<circle cx="273.70" cy="110.30" r="1.7" fill="#7a7a7a"/>
<circle cx="276.30" cy="110.30" r="1.7" fill="#7a7a7a"/>
<circle cx="278.90" cy="110.30" r="1.7" fill="#7a7a7a"/>
<circle cx="281.50" cy="110.30" r="1.7" fill="#7a7a7a"/>
<circle cx="284.10" cy="110.30" r="1.7" fill="#7a7a7a"/>
<circle cx="286.70" cy="110.30" r="1.7" fill="#7a7a7a"/>
<circle cx="289.30" cy="110.30" r="1.7" fill="#7a7a7a"/>
<circle cx="291.90" cy="110.30" r="1.7" fill="#7a7a7a"/>
<circle cx="294.50" cy="110.30" r="1.7" fill="#7a7a7a"/>
<circle cx="297.10" cy="110.30" r="1.7" fill="#7a7a7a"/>
<circle cx="299.70" cy="110.30" r="1.7" fill="#7a7a7a"/>
<circle cx="302.30" cy="110.30" r="1.7" fill="#7a7a7a"/>
<circle cx="304.90" cy="110.30" r="1.7" fill="#7a7a7a"/>
<circle cx="307.50" cy="110.30" r="1.7" fill="#7a7a7a"/>
<circle cx="310.10" cy="110.30" r="1.7" fill="#7a7a7a"/>
<text x="218.7" y="17.5" font-family="Liberation Serif" font-size="9" font-weight="bold">H-Ras<tspan font-size="6" dx="0.5" dy="-4.4">G12V</tspan></text>
<text x="288.2" y="38.8" font-family="Liberation Serif" font-size="9" font-weight="bold" text-anchor="middle" >Add</text>
<text x="288.4" y="49.4" font-family="Liberation Serif" font-size="9" font-weight="bold" text-anchor="middle" >SOD</text>
<line x1="275.6" y1="47.5" x2="267" y2="53.6" stroke="#000" stroke-width="1.3"/>
<path d="M264.2,55.7 L266.1,50.9 L269.2,54.9 Z" fill="#000"/>
<text x="334.8" y="17.6" font-family="Liberation Sans" font-size="19" font-weight="bold" text-anchor="start" >B</text>
<line x1="392.50" y1="15.40" x2="392.50" y2="214.20" stroke="#7a7a7a" stroke-width="1.5" stroke-linecap="square"/>
<line x1="388.00" y1="214.50" x2="392.00" y2="214.50" stroke="#7a7a7a" stroke-width="1.5" stroke-linecap="square"/>
<text x="374.7" y="219.29999999999998" font-family="Liberation Serif" font-size="14.5" font-weight="bold" text-anchor="middle" >0</text>
<line x1="388.00" y1="164.50" x2="392.00" y2="164.50" stroke="#7a7a7a" stroke-width="1.5" stroke-linecap="square"/>
<text x="374.7" y="169.6" font-family="Liberation Serif" font-size="14.5" font-weight="bold" text-anchor="middle" >2</text>
<line x1="388.00" y1="114.50" x2="392.00" y2="114.50" stroke="#7a7a7a" stroke-width="1.5" stroke-linecap="square"/>
<text x="374.7" y="119.89999999999998" font-family="Liberation Serif" font-size="14.5" font-weight="bold" text-anchor="middle" >4</text>
<line x1="388.00" y1="65.50" x2="392.00" y2="65.50" stroke="#7a7a7a" stroke-width="1.5" stroke-linecap="square"/>
<text x="374.7" y="70.19999999999996" font-family="Liberation Serif" font-size="14.5" font-weight="bold" text-anchor="middle" >6</text>
<line x1="388.00" y1="15.50" x2="392.00" y2="15.50" stroke="#7a7a7a" stroke-width="1.5" stroke-linecap="square"/>
<text x="374.7" y="20.49999999999998" font-family="Liberation Serif" font-size="14.5" font-weight="bold" text-anchor="middle" >8</text>
<line x1="392.00" y1="214.50" x2="517.50" y2="214.50" stroke="#7a7a7a" stroke-width="1.5" stroke-linecap="square"/>
<line x1="392.50" y1="214.20" x2="392.50" y2="217.70" stroke="#7a7a7a" stroke-width="1.5" stroke-linecap="square"/>
<line x1="433.50" y1="214.20" x2="433.50" y2="217.70" stroke="#7a7a7a" stroke-width="1.5" stroke-linecap="square"/>
<line x1="475.50" y1="214.20" x2="475.50" y2="217.70" stroke="#7a7a7a" stroke-width="1.5" stroke-linecap="square"/>
<line x1="517.50" y1="214.20" x2="517.50" y2="217.70" stroke="#7a7a7a" stroke-width="1.5" stroke-linecap="square"/>
<rect x="399.5" y="189.5" width="27" height="24.70" fill="#fff" stroke="#000" stroke-width="1.1"/>
<rect x="441.3" y="162.01" width="26.8" height="52.19" fill="#000"/>
<line x1="454.5" y1="162.015" x2="454.5" y2="159.52999999999997" stroke="#000" stroke-width="1.3"/>
<line x1="451.3" y1="159.52999999999997" x2="458.1" y2="159.52999999999997" stroke="#000" stroke-width="1.5"/>
<rect x="482.5" y="102.37" width="27.9" height="111.83" fill="#6f6f6f"/>
<line x1="496.5" y1="102.37499999999999" x2="496.5" y2="40.74699999999996" stroke="#000" stroke-width="1.3"/>
<line x1="493" y1="40.74699999999996" x2="499.7" y2="40.74699999999996" stroke="#000" stroke-width="1.5"/>
<g fill="#000"><path d="M0,-0.8 C1.15,-1.8 1.25,-3.3 0,-3.85 C-1.25,-3.3 -1.15,-1.8 0,-0.8 Z" transform="translate(496.3 33.7) rotate(0) scale(1.0)"/><path d="M0,-0.8 C1.15,-1.8 1.25,-3.3 0,-3.85 C-1.25,-3.3 -1.15,-1.8 0,-0.8 Z" transform="translate(496.3 33.7) rotate(72) scale(1.0)"/><path d="M0,-0.8 C1.15,-1.8 1.25,-3.3 0,-3.85 C-1.25,-3.3 -1.15,-1.8 0,-0.8 Z" transform="translate(496.3 33.7) rotate(144) scale(1.0)"/><path d="M0,-0.8 C1.15,-1.8 1.25,-3.3 0,-3.85 C-1.25,-3.3 -1.15,-1.8 0,-0.8 Z" transform="translate(496.3 33.7) rotate(216) scale(1.0)"/><path d="M0,-0.8 C1.15,-1.8 1.25,-3.3 0,-3.85 C-1.25,-3.3 -1.15,-1.8 0,-0.8 Z" transform="translate(496.3 33.7) rotate(288) scale(1.0)"/><circle cx="496.3" cy="33.7" r="0.90"/></g>
<text x="412" y="232.7" font-family="Liberation Serif" font-size="12" font-weight="bold" text-anchor="middle" >Cont.</text>
<text x="454" y="233.1" font-family="Liberation Serif" font-size="12" font-weight="bold" text-anchor="middle" >N-Ras</text>
<text x="452" y="247.2" font-family="Liberation Serif" font-size="12" font-weight="bold" text-anchor="middle" >G12D</text>
<text x="496.9" y="234.4" font-family="Liberation Serif" font-size="12" font-weight="bold" text-anchor="middle" >H-Ras</text>
<text x="495" y="248.6" font-family="Liberation Serif" font-size="12" font-weight="bold" text-anchor="middle" >G12V</text>
<text transform="translate(347.1,116.4) rotate(-90)" font-family="Liberation Serif" font-size="12.42" font-weight="bold" text-anchor="middle">Fold increase of Ras superoxide</text>
<text transform="translate(361.1,116.3) rotate(-90)" font-family="Liberation Serif" font-size="12.42" font-weight="bold" text-anchor="middle">production compared to control</text>
<text x="5.6" y="290.4" font-family="Liberation Sans" font-size="19" font-weight="bold" text-anchor="start" >C</text>
<line x1="96.50" y1="292.50" x2="96.50" y2="499.50" stroke="#7a7a7a" stroke-width="1.5" stroke-linecap="square"/>
<line x1="92.80" y1="499.50" x2="96.30" y2="499.50" stroke="#7a7a7a" stroke-width="1.5" stroke-linecap="square"/>
<text x="83.6" y="504.2" font-family="Liberation Serif" font-size="12.5" font-weight="bold" text-anchor="end" >0</text>
<line x1="92.80" y1="458.50" x2="96.30" y2="458.50" stroke="#7a7a7a" stroke-width="1.5" stroke-linecap="square"/>
<text x="83.6" y="462.8" font-family="Liberation Serif" font-size="12.5" font-weight="bold" text-anchor="end" >20</text>
<line x1="92.80" y1="416.50" x2="96.30" y2="416.50" stroke="#7a7a7a" stroke-width="1.5" stroke-linecap="square"/>
<text x="83.6" y="421.4" font-family="Liberation Serif" font-size="12.5" font-weight="bold" text-anchor="end" >40</text>
<line x1="92.80" y1="375.50" x2="96.30" y2="375.50" stroke="#7a7a7a" stroke-width="1.5" stroke-linecap="square"/>
<text x="83.6" y="380.0" font-family="Liberation Serif" font-size="12.5" font-weight="bold" text-anchor="end" >60</text>
<line x1="92.80" y1="333.50" x2="96.30" y2="333.50" stroke="#7a7a7a" stroke-width="1.5" stroke-linecap="square"/>
<text x="83.6" y="338.59999999999997" font-family="Liberation Serif" font-size="12.5" font-weight="bold" text-anchor="end" >80</text>
<line x1="92.80" y1="292.50" x2="96.30" y2="292.50" stroke="#7a7a7a" stroke-width="1.5" stroke-linecap="square"/>
<text x="83.6" y="297.2" font-family="Liberation Serif" font-size="12.5" font-weight="bold" text-anchor="end" >100</text>
<line x1="96.30" y1="499.50" x2="239.40" y2="499.50" stroke="#7a7a7a" stroke-width="1.5" stroke-linecap="square"/>
<line x1="96.50" y1="499.50" x2="96.50" y2="503.00" stroke="#7a7a7a" stroke-width="1.5" stroke-linecap="square"/>
<line x1="144.50" y1="499.50" x2="144.50" y2="503.00" stroke="#7a7a7a" stroke-width="1.5" stroke-linecap="square"/>
<line x1="191.50" y1="499.50" x2="191.50" y2="503.00" stroke="#7a7a7a" stroke-width="1.5" stroke-linecap="square"/>
<line x1="239.50" y1="499.50" x2="239.50" y2="503.00" stroke="#7a7a7a" stroke-width="1.5" stroke-linecap="square"/>
<rect x="104.80" y="311.54" width="31" height="187.96" fill="#6f6f6f"/>
<line x1="120.5" y1="311.544" x2="120.5" y2="295.19100000000003" stroke="#000" stroke-width="1.3"/>
<line x1="117.1" y1="295.19100000000003" x2="123.5" y2="295.19100000000003" stroke="#000" stroke-width="1.5"/>
<rect x="152.60" y="324.38" width="31" height="175.12" fill="#6f6f6f"/>
<line x1="168.5" y1="324.37800000000004" x2="168.5" y2="322.92900000000003" stroke="#000" stroke-width="1.3"/>
<line x1="164.9" y1="322.92900000000003" x2="171.29999999999998" y2="322.92900000000003" stroke="#000" stroke-width="1.5"/>
<rect x="200.40" y="497.84" width="31" height="1.66" fill="#6f6f6f"/>
<line x1="215.5" y1="497.844" x2="215.5" y2="496.809" stroke="#000" stroke-width="1.3"/>
<line x1="212.70000000000002" y1="496.809" x2="219.1" y2="496.809" stroke="#000" stroke-width="1.5"/>
<g fill="#000"><path d="M0,-0.8 C1.15,-1.8 1.25,-3.3 0,-3.85 C-1.25,-3.3 -1.15,-1.8 0,-0.8 Z" transform="translate(217.1 490.8) rotate(0) scale(1.0)"/><path d="M0,-0.8 C1.15,-1.8 1.25,-3.3 0,-3.85 C-1.25,-3.3 -1.15,-1.8 0,-0.8 Z" transform="translate(217.1 490.8) rotate(72) scale(1.0)"/><path d="M0,-0.8 C1.15,-1.8 1.25,-3.3 0,-3.85 C-1.25,-3.3 -1.15,-1.8 0,-0.8 Z" transform="translate(217.1 490.8) rotate(144) scale(1.0)"/><path d="M0,-0.8 C1.15,-1.8 1.25,-3.3 0,-3.85 C-1.25,-3.3 -1.15,-1.8 0,-0.8 Z" transform="translate(217.1 490.8) rotate(216) scale(1.0)"/><path d="M0,-0.8 C1.15,-1.8 1.25,-3.3 0,-3.85 C-1.25,-3.3 -1.15,-1.8 0,-0.8 Z" transform="translate(217.1 490.8) rotate(288) scale(1.0)"/><circle cx="217.1" cy="490.8" r="0.90"/></g>
<text transform="translate(117.89999999999999,510.4) rotate(-45)" font-family="Liberation Serif" font-size="12" font-weight="bold" text-anchor="end" dominant-baseline="hanging">PBS</text>
<text transform="translate(165.7,510.4) rotate(-45)" font-family="Liberation Serif" font-size="12" font-weight="bold" text-anchor="end" dominant-baseline="hanging">Catalase</text>
<text transform="translate(213.5,510.4) rotate(-45)" font-family="Liberation Serif" font-size="12" font-weight="bold" text-anchor="end" dominant-baseline="hanging">†SOD</text>
<text transform="translate(47.9,396.0) rotate(-90)" font-family="Liberation Serif" font-size="12.3" font-weight="bold" text-anchor="middle">% H-Ras<tspan font-size="7.5" dy="-4.3">G12V</tspan><tspan dy="4.3"> superoxide output</tspan></text>
<text transform="translate(63.2,395.5) rotate(-90)" font-family="Liberation Serif" font-size="12.4" font-weight="bold" text-anchor="middle">(area under curve)</text>
<text x="287.8" y="290.1" font-family="Liberation Sans" font-size="19" font-weight="bold" text-anchor="start" >D</text>
<line x1="346.50" y1="295.40" x2="346.50" y2="499.00" stroke="#7a7a7a" stroke-width="1.5" stroke-linecap="square"/>
<line x1="343.00" y1="499.50" x2="346.50" y2="499.50" stroke="#7a7a7a" stroke-width="1.5" stroke-linecap="square"/>
<text x="330.6" y="504.0" font-family="Liberation Serif" font-size="11.5" font-weight="bold" text-anchor="middle" >0</text>
<line x1="343.00" y1="448.50" x2="346.50" y2="448.50" stroke="#7a7a7a" stroke-width="1.5" stroke-linecap="square"/>
<text x="330.6" y="453.1" font-family="Liberation Serif" font-size="11.5" font-weight="bold" text-anchor="middle" >1</text>
<line x1="343.00" y1="397.50" x2="346.50" y2="397.50" stroke="#7a7a7a" stroke-width="1.5" stroke-linecap="square"/>
<text x="330.6" y="402.2" font-family="Liberation Serif" font-size="11.5" font-weight="bold" text-anchor="middle" >2</text>
<line x1="343.00" y1="346.50" x2="346.50" y2="346.50" stroke="#7a7a7a" stroke-width="1.5" stroke-linecap="square"/>
<text x="330.6" y="351.3" font-family="Liberation Serif" font-size="11.5" font-weight="bold" text-anchor="middle" >3</text>
<line x1="343.00" y1="295.50" x2="346.50" y2="295.50" stroke="#7a7a7a" stroke-width="1.5" stroke-linecap="square"/>
<text x="330.6" y="300.4" font-family="Liberation Serif" font-size="11.5" font-weight="bold" text-anchor="middle" >4</text>
<line x1="346.50" y1="499.50" x2="491.00" y2="499.50" stroke="#7a7a7a" stroke-width="1.5" stroke-linecap="square"/>
<line x1="346.50" y1="499.00" x2="346.50" y2="502.00" stroke="#7a7a7a" stroke-width="1.5" stroke-linecap="square"/>
<line x1="394.50" y1="499.00" x2="394.50" y2="502.00" stroke="#7a7a7a" stroke-width="1.5" stroke-linecap="square"/>
<line x1="443.50" y1="499.00" x2="443.50" y2="502.00" stroke="#7a7a7a" stroke-width="1.5" stroke-linecap="square"/>
<line x1="491.50" y1="499.00" x2="491.50" y2="502.00" stroke="#7a7a7a" stroke-width="1.5" stroke-linecap="square"/>
<rect x="355.5" y="450.5" width="30" height="48.50" fill="#fff" stroke="#000" stroke-width="1.1"/>
<line x1="371.5" y1="450.136" x2="371.5" y2="446.064" stroke="#000" stroke-width="1.3"/>
<line x1="368" y1="446.064" x2="374.6" y2="446.064" stroke="#000" stroke-width="1.5"/>
<rect x="403.2" y="386.51" width="31.8" height="112.49" fill="#000"/>
<line x1="419.5" y1="386.511" x2="419.5" y2="372.259" stroke="#000" stroke-width="1.3"/>
<line x1="415.6" y1="372.259" x2="422.6" y2="372.259" stroke="#000" stroke-width="1.5"/>
<rect x="451.5" y="343.75" width="31.3" height="155.25" fill="#6f6f6f"/>
<line x1="467.5" y1="343.755" x2="467.5" y2="299.981" stroke="#000" stroke-width="1.3"/>
<line x1="463.9" y1="299.981" x2="470.9" y2="299.981" stroke="#000" stroke-width="1.5"/>
<g fill="#000"><path d="M0,-0.8 C1.15,-1.8 1.25,-3.3 0,-3.85 C-1.25,-3.3 -1.15,-1.8 0,-0.8 Z" transform="translate(467.5 294.1) rotate(0) scale(1.0)"/><path d="M0,-0.8 C1.15,-1.8 1.25,-3.3 0,-3.85 C-1.25,-3.3 -1.15,-1.8 0,-0.8 Z" transform="translate(467.5 294.1) rotate(72) scale(1.0)"/><path d="M0,-0.8 C1.15,-1.8 1.25,-3.3 0,-3.85 C-1.25,-3.3 -1.15,-1.8 0,-0.8 Z" transform="translate(467.5 294.1) rotate(144) scale(1.0)"/><path d="M0,-0.8 C1.15,-1.8 1.25,-3.3 0,-3.85 C-1.25,-3.3 -1.15,-1.8 0,-0.8 Z" transform="translate(467.5 294.1) rotate(216) scale(1.0)"/><path d="M0,-0.8 C1.15,-1.8 1.25,-3.3 0,-3.85 C-1.25,-3.3 -1.15,-1.8 0,-0.8 Z" transform="translate(467.5 294.1) rotate(288) scale(1.0)"/><circle cx="467.5" cy="294.1" r="0.90"/></g>
<text x="368" y="519.4" font-family="Liberation Serif" font-size="12" font-weight="bold" text-anchor="middle" >Cont.</text>
<text x="416.5" y="520" font-family="Liberation Serif" font-size="12" font-weight="bold" text-anchor="middle" >N-Ras</text>
<text x="416" y="534.4" font-family="Liberation Serif" font-size="12" font-weight="bold" text-anchor="middle" >G12D</text>
<text x="465.7" y="520" font-family="Liberation Serif" font-size="12" font-weight="bold" text-anchor="middle" >H-Ras</text>
<text x="464.5" y="534.4" font-family="Liberation Serif" font-size="12" font-weight="bold" text-anchor="middle" >G12V</text>
<text transform="translate(299.6,397.6) rotate(-90)" font-family="Liberation Serif" font-size="12.3" font-weight="bold" text-anchor="middle">H<tspan font-size="8" dy="2.5">2</tspan><tspan dy="-2.5">O</tspan><tspan font-size="8" dy="2.5">2</tspan><tspan dy="-2.5"> production rate</tspan></text>
<text transform="translate(313.8,397.7) rotate(-90)" font-family="Liberation Serif" font-size="12.3" font-weight="bold" text-anchor="middle">(nmoles/h/2x10<tspan font-size="8" dy="-4">5</tspan><tspan dy="4"> cells)</tspan></text>
</svg>
</body></html>
